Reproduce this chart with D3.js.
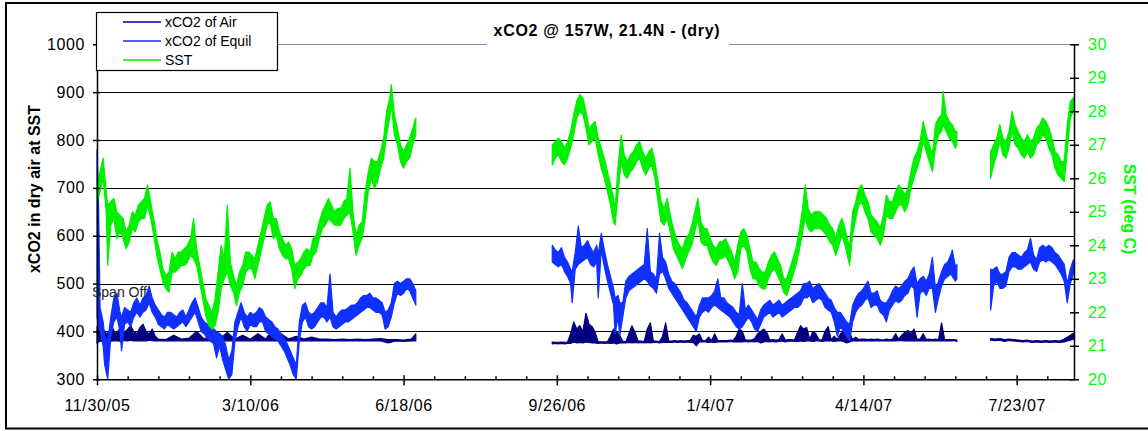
<!DOCTYPE html>
<html lang="en">
<head>
<meta charset="UTF-8">
<title>xCO2 @ 157W, 21.4N</title>
<script src="https://d3js.org/d3.v7.min.js"></script>
<style>
  body { margin: 0; background: #fff; }
  text { font-family: "Liberation Sans", Arial, sans-serif; }
</style>
</head>
<body>
<script>
// tick labels (every 100 days from 11/30/05)
var dateLabels = ["11/30/05", "3/10/06", "6/18/06", "9/26/06", "1/4/07", "4/14/07", "7/23/07"];
var leftTicks = [300, 400, 500, 600, 700, 800, 900, 1000];
var rightTicks = [20, 21, 22, 23, 24, 25, 26, 27, 28, 29, 30];

// each row: [day since 11/30/05, low, high]
var sstA = [[0,25.3,25.8],[2,25.6,26.2],[4,26.0,26.6],[6,25.0,25.6],[7,23.4,25.2],[9,24.6,25.3],[11,24.8,25.4],[13,24.2,25.0],[15,24.4,24.9],[17,24.2,24.8],[19,23.9,24.4],[21,24.1,24.6],[23,24.5,25.0],[25,24.4,24.9],[27,24.7,25.2],[29,24.8,25.3],[31,24.8,25.4],[33,25.2,25.8],[35,24.8,25.3],[37,24.3,24.8],[39,23.7,24.2],[41,23.3,23.8],[43,22.9,23.3],[45,22.7,23.1],[47,22.6,23.2],[49,23.2,23.8],[51,23.2,23.6],[53,23.3,23.8],[55,23.4,23.8],[57,23.4,23.9],[59,23.5,24.0],[61,23.7,24.2],[63,23.6,24.8],[65,23.4,23.9],[67,22.9,23.4],[69,22.4,22.9],[71,21.9,22.4],[73,21.6,22.2],[75,21.5,22.0],[77,21.6,22.4],[79,22.0,23.2],[81,22.7,24.0],[83,23.0,23.6],[85,23.2,25.2],[87,22.8,23.5],[89,22.6,23.1],[91,22.2,22.8],[93,22.6,23.2],[95,22.8,23.4],[97,23.2,23.8],[99,23.3,23.8],[101,23.3,23.7],[103,23.0,23.6],[105,23.4,24.0],[107,23.8,24.4],[109,24.2,24.8],[111,24.6,25.2],[113,24.7,25.3],[115,24.2,24.8],[117,24.3,24.8],[119,23.9,24.4],[121,23.7,24.2],[123,23.6,24.0],[125,23.6,24.1],[127,23.3,23.9],[129,22.7,23.4],[131,23.0,23.5],[133,23.1,23.6],[135,23.3,23.8],[137,23.4,23.9],[139,23.4,23.8],[141,23.7,24.2],[143,23.8,24.3],[145,24.2,24.7],[147,24.5,25.0],[149,24.6,25.2],[151,24.8,25.4],[153,24.7,25.2],[155,24.6,25.0],[157,24.6,25.1],[159,24.6,25.1],[161,24.8,25.3],[163,24.9,25.4],[165,25.0,26.3],[167,24.4,25.0],[169,23.7,24.3],[171,24.0,24.6],[173,24.2,24.7],[175,24.8,25.6],[177,25.6,26.2],[179,26.0,26.6],[181,25.7,26.5],[183,25.9,26.5],[185,26.3,26.8],[187,26.6,27.2],[189,27.3,28.0],[191,27.8,28.4],[192,28.2,28.8],[194,27.3,27.9],[196,27.0,27.5],[198,26.5,27.0],[200,26.3,26.8],[202,26.5,27.0],[204,26.6,27.2],[206,27.0,27.5],[208,27.3,27.8]];
var sstB = [[297,26.4,27.0],[299,26.6,27.1],[301,26.7,27.2],[303,26.5,27.1],[305,26.4,26.9],[307,26.6,27.1],[309,26.9,27.4],[311,27.3,27.9],[313,27.8,28.3],[315,28.0,28.5],[317,27.9,28.4],[319,27.5,28.0],[321,27.0,27.5],[323,27.1,27.6],[325,27.2,27.7],[327,26.7,27.2],[329,26.3,26.9],[331,26.0,26.6],[333,25.6,26.2],[335,25.2,25.8],[337,24.7,25.4],[338,24.6,25.1],[340,25.6,26.4],[342,26.5,27.3],[344,26.1,26.7],[346,26.0,26.5],[348,26.2,26.7],[350,26.3,26.8],[352,26.5,27.0],[354,26.6,27.1],[356,26.3,26.8],[358,26.1,26.6],[360,26.3,26.8],[362,26.4,26.9],[364,26.0,26.5],[366,25.3,25.9],[368,24.7,25.3],[370,24.6,25.1],[372,24.8,25.4],[374,24.4,24.9],[376,23.9,24.5],[378,23.7,24.2],[380,23.5,24.0],[382,23.3,23.9],[384,23.6,24.2],[386,23.8,24.3],[388,24.0,24.6],[390,24.4,25.0],[392,24.8,25.4],[394,24.1,24.7],[396,24.0,24.5],[398,24.0,24.5],[400,23.7,24.2],[402,23.5,24.0],[404,23.4,23.9],[406,23.6,24.1],[408,23.6,24.1],[410,23.7,24.2],[412,23.5,24.0],[414,23.3,23.8],[416,23.0,23.5],[418,23.2,24.0],[420,23.9,24.4],[422,24.0,24.5],[424,23.8,24.3],[426,23.3,23.9],[428,23.0,23.5],[430,23.0,23.5],[432,22.8,23.3],[434,22.7,23.2],[436,22.7,23.2],[438,23.0,23.5],[440,23.2,23.7],[442,23.3,23.8],[444,23.1,23.6],[446,22.9,23.4],[448,22.6,23.0],[450,22.5,23.0],[452,22.8,23.3],[454,23.1,23.6],[456,23.4,23.9],[458,23.8,24.4],[460,24.3,25.0],[462,24.8,25.8],[464,24.5,25.1],[466,24.4,24.9],[468,24.5,25.0],[470,24.5,25.0],[472,24.5,25.0],[474,24.4,24.9],[476,24.3,24.8],[478,24.1,24.6],[480,24.0,24.5],[482,23.7,24.2],[484,24.0,24.6],[486,24.3,24.8],[488,24.0,24.5],[490,23.6,24.1],[491,23.4,24.0],[493,24.3,25.0],[495,24.8,25.3],[497,25.2,25.7],[499,25.3,25.8],[501,25.0,25.5],[503,24.8,25.3],[505,24.4,24.9],[507,24.3,24.8],[509,24.2,24.7],[511,24.0,24.5],[513,24.3,24.9],[515,24.9,25.5],[517,24.8,25.3],[519,24.8,25.3],[521,25.0,25.6],[523,25.2,25.8],[525,25.2,25.7],[527,25.0,25.5],[529,25.2,25.7],[531,25.7,26.2],[533,26.0,26.6],[535,26.3,26.8],[537,26.6,27.1],[539,27.1,27.7],[541,26.8,27.3],[543,26.5,27.0],[545,26.2,26.7],[547,26.9,27.6],[549,27.3,27.8],[551,27.4,27.9],[552,27.6,28.6],[554,27.4,27.9],[556,27.2,27.7],[558,27.1,27.6],[560,26.9,27.4],[561,27.0,27.4]];
var sstC = [[583,26.0,26.8],[585,26.4,27.0],[587,26.7,27.2],[589,27.1,27.6],[591,26.7,27.2],[593,26.6,27.1],[595,26.9,27.4],[597,27.4,28.0],[599,27.0,27.6],[601,26.9,27.4],[603,26.7,27.2],[605,26.6,27.1],[607,26.8,27.3],[609,26.6,27.1],[611,26.7,27.2],[613,27.0,27.5],[615,27.1,27.6],[617,27.3,27.8],[619,27.2,27.7],[621,26.9,27.5],[623,26.7,27.2],[625,26.3,26.8],[627,26.1,26.7],[629,26.0,26.5],[631,25.9,26.5],[633,26.8,27.6],[635,27.8,28.3],[637,28.0,28.4]];

var equilA = [[0,430,780],[1,410,670],[2,400,450],[4,370,420],[5,330,390],[7,300,380],[9,390,430],[11,420,470],[13,430,480],[15,400,440],[16,360,430],[18,415,450],[20,420,445],[22,410,440],[24,430,460],[26,440,470],[28,430,455],[30,440,470],[32,445,475],[34,460,495],[36,440,470],[38,430,455],[40,415,445],[42,410,435],[44,405,430],[46,415,440],[48,410,440],[50,405,435],[52,410,430],[54,415,440],[56,420,445],[58,410,430],[60,420,445],[62,430,460],[64,440,470],[66,420,450],[68,400,430],[70,395,420],[72,385,415],[74,380,410],[76,375,405],[78,345,400],[80,370,395],[82,340,390],[84,320,370],[86,300,340],[88,310,360],[90,380,420],[92,410,440],[94,430,460],[96,410,440],[98,400,430],[100,415,440],[102,410,435],[104,410,440],[106,420,450],[108,420,445],[110,400,430],[112,395,425],[114,390,420],[116,385,410],[118,380,405],[120,370,395],[122,360,385],[124,345,375],[126,330,360],[128,310,345],[130,300,330],[132,380,420],[134,420,455],[136,430,460],[138,410,440],[140,405,435],[142,410,440],[144,420,450],[146,430,460],[148,430,460],[150,420,450],[152,430,520],[154,410,440],[156,405,430],[158,410,440],[160,415,445],[162,420,445],[164,420,450],[166,425,455],[168,430,455],[170,435,460],[172,440,470],[174,445,475],[176,450,475],[178,450,480],[180,445,470],[182,440,470],[184,440,465],[186,435,460],[188,405,440],[190,410,445],[192,430,460],[194,460,500],[196,480,505],[198,475,500],[200,480,505],[202,490,510],[204,485,510],[206,470,500],[208,455,485]];
var equilB = [[297,545,580],[299,540,570],[301,535,565],[303,540,575],[305,525,555],[307,515,545],[309,500,530],[310,460,525],[312,530,565],[314,540,620],[316,545,575],[318,550,580],[320,555,590],[322,540,575],[324,535,565],[326,545,580],[327,470,560],[329,570,605],[331,535,570],[333,505,540],[335,480,515],[337,455,490],[338,395,470],[340,430,475],[341,390,460],[343,430,460],[345,470,505],[347,485,515],[349,490,520],[351,495,525],[353,500,530],[355,505,535],[357,510,540],[359,505,615],[361,495,525],[363,490,520],[365,480,510],[367,520,605],[369,525,555],[371,510,545],[373,490,520],[375,480,505],[377,470,500],[379,460,490],[381,450,480],[383,440,465],[385,430,460],[387,420,450],[389,410,440],[391,400,430],[393,430,455],[395,440,470],[397,445,470],[399,440,470],[401,450,475],[403,455,485],[405,450,510],[407,445,470],[409,440,470],[411,435,460],[413,430,455],[415,420,450],[417,410,440],[419,405,435],[421,410,500],[423,420,445],[425,430,455],[427,420,445],[429,405,435],[431,400,425],[433,415,445],[435,430,455],[437,435,460],[439,440,465],[441,430,455],[443,435,460],[445,440,465],[447,430,455],[449,435,460],[451,440,465],[453,445,470],[455,450,475],[457,450,480],[459,455,485],[461,470,500],[463,470,500],[465,475,505],[467,460,490],[469,465,495],[471,470,500],[473,465,490],[475,450,480],[477,445,470],[479,440,465],[481,420,450],[483,390,440],[485,410,440],[487,400,430],[489,390,420],[491,380,415],[493,420,455],[495,440,470],[497,450,480],[499,455,485],[501,465,495],[503,470,505],[505,450,480],[507,455,480],[509,455,485],[511,440,465],[513,435,460],[515,420,460],[517,445,470],[519,455,485],[521,465,495],[523,460,490],[525,465,495],[527,475,505],[529,480,510],[531,495,525],[533,490,535],[535,430,500],[537,480,510],[539,485,515],[541,475,505],[543,490,520],[545,490,555],[547,440,490],[549,470,505],[551,495,525],[553,510,540],[555,515,545],[557,520,560],[558,515,570],[560,505,535],[561,510,540]];
var equilC = [[583,445,530],[585,495,530],[587,505,535],[589,490,520],[591,490,520],[593,495,525],[595,525,555],[597,535,565],[599,535,565],[601,530,560],[603,530,555],[605,535,565],[607,540,570],[609,545,595],[611,530,560],[613,525,550],[615,545,575],[617,550,580],[619,545,575],[621,550,580],[623,545,575],[625,540,565],[627,530,560],[629,520,550],[631,505,540],[633,460,500],[635,500,530],[637,520,550]];

var airA = [[0,375,410],[2,380,400],[4,378,405],[6,380,395],[8,379,400],[10,380,408],[12,381,395],[14,380,402],[16,379,410],[18,381,398],[20,380,405],[22,382,412],[24,380,400],[26,381,395],[28,380,408],[30,381,415],[32,380,400],[34,382,395],[36,381,405],[38,380,390],[40,381,384],[45,380,383],[50,381,392],[55,380,384],[60,381,386],[65,380,400],[70,381,384],[75,380,395],[80,381,384],[85,380,398],[90,381,384],[95,380,392],[100,381,384],[105,380,395],[110,381,384],[115,380,405],[120,381,395],[125,380,384],[130,381,390],[135,380,384],[140,381,388],[145,380,384],[150,381,384],[155,380,383],[160,381,384],[165,380,383],[170,381,384],[175,380,383],[180,381,384],[185,380,385],[190,376,383],[195,380,383],[200,379,382],[205,380,384],[208,380,395]];
var airB = [[297,374,378],[299,375,377],[301,374,377],[303,375,378],[305,374,377],[307,375,378],[309,375,395],[311,378,420],[313,376,405],[315,377,412],[317,376,400],[319,378,438],[321,377,415],[323,376,410],[325,376,398],[327,375,378],[329,376,378],[331,375,378],[333,376,379],[335,375,390],[337,376,405],[339,374,400],[341,376,392],[343,376,380],[345,376,378],[347,377,395],[349,376,412],[351,377,398],[353,376,380],[355,377,380],[357,376,379],[359,377,405],[361,376,418],[363,377,380],[365,377,380],[367,376,379],[369,377,390],[371,377,418],[373,377,380],[375,377,380],[377,378,381],[379,377,380],[381,378,381],[383,377,380],[385,378,381],[387,377,381],[389,377,392],[391,370,390],[393,378,395],[395,378,381],[397,378,381],[399,377,388],[401,378,381],[403,377,395],[405,378,381],[407,378,381],[409,378,381],[411,378,381],[413,379,382],[415,378,381],[417,378,390],[419,378,405],[421,378,400],[423,379,382],[425,378,382],[427,379,382],[429,378,385],[431,379,395],[433,376,400],[435,378,405],[437,379,398],[439,378,382],[441,379,383],[443,378,382],[445,379,383],[447,380,395],[449,378,382],[451,379,383],[453,380,383],[455,379,382],[457,379,398],[459,380,412],[461,379,405],[463,380,408],[465,380,383],[467,379,400],[469,380,395],[471,380,383],[473,379,382],[475,380,400],[477,380,410],[479,380,383],[481,379,390],[483,380,383],[485,380,395],[487,379,400],[489,376,405],[491,378,398],[493,380,383],[495,380,388],[497,380,383],[499,380,384],[501,381,384],[503,380,383],[505,381,384],[507,380,383],[509,381,384],[511,380,383],[513,380,382],[515,381,384],[517,380,383],[519,381,384],[521,380,395],[523,381,384],[525,381,392],[527,380,398],[529,381,402],[531,380,395],[533,381,405],[535,380,384],[537,381,384],[539,380,395],[541,380,383],[543,381,384],[545,380,383],[547,381,384],[549,380,383],[551,381,418],[553,380,383],[555,381,383],[557,380,383],[559,381,383],[561,379,382]];
var airC = [[583,382,385],[586,381,384],[589,382,385],[592,379,383],[595,381,384],[598,380,383],[601,379,382],[604,378,381],[607,379,382],[610,377,380],[613,378,381],[616,377,380],[619,378,381],[622,377,380],[625,378,381],[628,377,380],[631,378,384],[633,380,388],[635,382,392],[637,384,396]];

var W = 1148, H = 431;
var svg = d3.select("body").append("svg").attr("width", W).attr("height", H);

// scales
var x = d3.scaleLinear().domain([0, 637.4]).range([97, 1074]);
var yL = d3.scaleLinear().domain([300, 1000]).range([379.3, 44.3]);
var yR = d3.scaleLinear().domain([20, 30]).range([379.3, 44.3]);

// outer frame
svg.append("rect").attr("x", 6).attr("y", 3).attr("width", 1150).attr("height", 425.5)
    .attr("fill", "#fff").attr("stroke", "#000").attr("stroke-width", 2);

// gridlines
svg.append("g").selectAll("line")
    .data(leftTicks.filter(function (d) { return d > 300; }))
    .enter().append("line")
    .attr("x1", x(0)).attr("x2", x(637.4))
    .attr("y1", function (d) { return Math.round(yL(d)) + 0.5; })
    .attr("y2", function (d) { return Math.round(yL(d)) + 0.5; })
    .attr("stroke", function (d) { return d == 1000 ? "#888" : "#000"; })
    .attr("stroke-width", 1.2);

var series = [
    { segs: [airA, airB, airC], y: yL, color: "#000080" },
    { segs: [equilA, equilB, equilC], y: yL, color: "#1030ff" },
    { segs: [sstA, sstB, sstC], y: yR, color: "#00f000" }
];

// each row's low..high range drawn as a filled jagged band
series.forEach(function (s) {
    var band = d3.area()
        .x(function (d) { return x(d[0]); })
        .y0(function (d) { return s.y(d[1]); })
        .y1(function (d) { return s.y(d[2]); });
    s.segs.forEach(function (seg) {
        svg.append("path")
            .attr("d", band(seg))
            .attr("fill", s.color)
            .attr("stroke", s.color)
            .attr("stroke-width", 1.2)
            .attr("stroke-linejoin", "round");
    });
});

// left axis
var gl = svg.append("g").attr("transform", "translate(" + x(0) + ",0)")
    .call(d3.axisLeft(yL).tickValues(leftTicks).tickFormat(d3.format("d"))
        .tickSizeInner(4).tickSizeOuter(0).tickPadding(8));
gl.select(".domain").attr("stroke", "#000").attr("stroke-width", 1.5);
gl.selectAll(".tick line").attr("x1", 3).attr("stroke-width", 1.5);
gl.selectAll("text").style("font-size", "16px").style("letter-spacing", "0.6px").attr("fill", "#000");

// right axis
var gr = svg.append("g").attr("transform", "translate(" + x(637.4) + ",0)")
    .call(d3.axisRight(yR).tickValues(rightTicks).tickSizeInner(5).tickSizeOuter(0).tickPadding(9));
gr.select(".domain").attr("stroke", "#000").attr("stroke-width", 1.5);
gr.selectAll(".tick line").attr("x1", -4).attr("stroke-width", 1.5);
gr.selectAll("text").style("font-size", "16px").style("letter-spacing", "0.6px").attr("fill", "#00ff00");

// bottom axis, minor ticks every 20 days
var minor = d3.range(0, 638, 20).filter(function (d) { return d % 100 != 0; });
svg.append("g").attr("transform", "translate(0," + yL(300) + ")")
    .call(d3.axisBottom(x).tickValues(minor).tickSize(-3).tickFormat(""))
    .call(function (g) { g.select(".domain").remove(); g.selectAll("line").attr("stroke-width", 1.5); });

var gb = svg.append("g").attr("transform", "translate(0," + yL(300) + ")")
    .call(d3.axisBottom(x).tickValues(d3.range(0, 700, 100))
        .tickFormat(function (d, i) { return dateLabels[i]; })
        .tickSizeInner(6).tickSizeOuter(0).tickPadding(14));
gb.select(".domain").attr("stroke", "#000").attr("stroke-width", 1.5);
gb.selectAll(".tick line").attr("y1", -4).attr("stroke-width", 1.5);
gb.selectAll("text").style("font-size", "16px").style("letter-spacing", "0.6px").attr("fill", "#000");

// axis titles
svg.append("text")
    .attr("transform", "translate(40,189) rotate(-90)")
    .attr("text-anchor", "middle")
    .style("font-size", "16px").style("font-weight", "bold")
    .text("xCO2 in dry air at SST");
svg.append("text")
    .attr("transform", "translate(1124,209) rotate(90)")
    .attr("text-anchor", "middle")
    .style("font-size", "16px").style("font-weight", "bold")
    .attr("fill", "#00ff00")
    .text("SST (deg C)");

// chart title on a white box over the top gridline
svg.append("rect").attr("x", 487).attr("y", 14).attr("width", 242).attr("height", 34).attr("fill", "#fff");
svg.append("text")
    .attr("x", 607).attr("y", 36)
    .attr("text-anchor", "middle")
    .style("font-size", "16px").style("font-weight", "bold").style("letter-spacing", "0.7px")
    .text("xCO2 @ 157W, 21.4N - (dry)");

// annotation
svg.append("text").attr("x", 92).attr("y", 297)
    .style("font-size", "14px").attr("fill", "#222").text("Span Off");

// legend
var legendNames = ["xCO2 of Air", "xCO2 of Equil", "SST"];
var legend = svg.append("g");
legend.append("rect").attr("x", 96.5).attr("y", 12.5).attr("width", 181).attr("height", 58)
    .attr("fill", "#fff").attr("stroke", "#000").attr("stroke-width", 1.2);
legendNames.forEach(function (name, i) {
    var ly = 22 + i * 19;
    legend.append("line").attr("x1", 123).attr("x2", 161).attr("y1", ly).attr("y2", ly)
        .attr("stroke", series[i].color).attr("stroke-width", 1.5);
    legend.append("text").attr("x", 165).attr("y", ly + 5)
        .style("font-size", "14px").text(name);
});
</script>
</body>
</html>
